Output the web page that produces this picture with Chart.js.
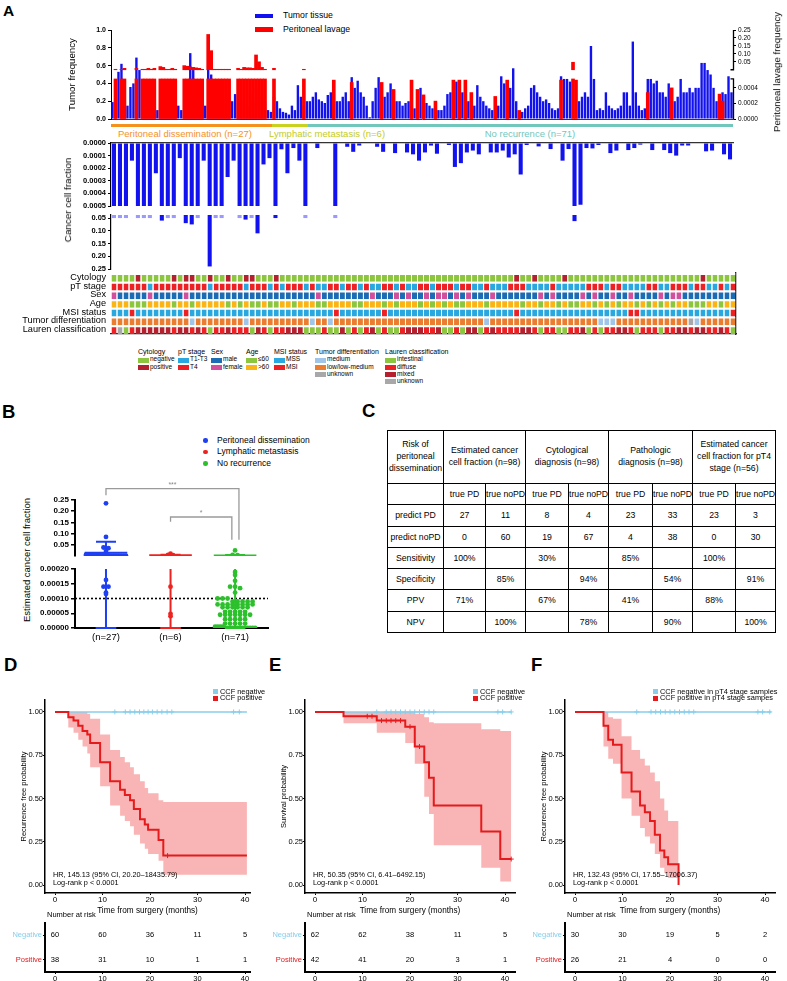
<!DOCTYPE html>
<html>
<head>
<meta charset="utf-8">
<script src="https://cdn.jsdelivr.net/npm/chart.js@4.4.1/dist/chart.umd.min.js"></script>
<style>
html,body{margin:0;padding:0;background:#fff;}
#root{position:relative;width:787px;height:981px;overflow:hidden;font-family:'Liberation Sans',Arial,Helvetica,sans-serif;color:#000;}
#root canvas{position:absolute;}
.t{position:absolute;white-space:nowrap;line-height:1;}
.v{position:absolute;white-space:nowrap;line-height:1;transform:translate(-50%,-50%) rotate(-90deg);}
.sw{position:absolute;}
table.c{position:absolute;border-collapse:collapse;font-size:8.7px;table-layout:fixed;}
table.c td{border:1px solid #000;text-align:center;padding:0;line-height:1.2;overflow:hidden;white-space:nowrap;}
table.c tr.h td{line-height:1.35;}
</style>
</head>
<body><div id="root"></div>
<script>
// ======================= DATA =======================
// Panel A – groups
const groupNames = ['Peritoneal dissemination (n=27)', 'Lymphatic metastasis (n=6)', 'No recurrence (n=71)'];
const groupSizes = [27, 6, 71];
// Panel A – top: tumor frequency (2 mutation slots per sample, 104 samples)
const tumorFreq = [
0.19,0.17, 0.53,0.62, 0.30,0.15, 0.36,0.40, 0.69,0.55, 0.30,0.20, 0.22,0.18, 0.15,0.10, 0.20,0.18, 0.25,0.18,
0.30,0.20, 0.15,0.10, 0.25,0.20, 0.74,0.55, 0.30,0.20, 0.20,0.15, 0.62,0.50, 0.30,0.20, 0.20,0.18, 0.25,0.20,
0.20,0.28, 0.27,0.20, 0.20,0.15, 0.30,0.20, 0.35,0.25, 0.25,0.20, 0.10,0.08,
0.25,0.20, 0.12,0.08, 0.07,0.05, 0.15,0.10, 0.38,0.25, 0.15,0.20,
0.20,0.25, 0.30,0.22, 0.20,0.18, 0.27,0.30, 0.25,0.20, 0.20,0.25, 0.30,0.20, 0.47,0.35, 0.43,0.30, 0.25,0.15,
0.02,0.20, 0.35,0.47, 0.20,0.25, 0.30,0.40, 0.25,0.20, 0.20,0.15, 0.18,0.20, 0.20,0.12, 0.30,0.35, 0.22,0.18,
0.15,0.12, 0.08,0.10, 0.10,0.15, 0.28,0.30, 0.35,0.42, 0.38,0.30, 0.15,0.20, 0.20,0.15, 0.38,0.25, 0.20,0.15,
0.12,0.10, 0.20,0.15, 0.48,0.40, 0.42,0.35, 0.57,0.20, 0.03,0.08, 0.12,0.15, 0.35,0.38, 0.30,0.25, 0.20,0.22,
0.18,0.12, 0.10,0.12, 0.48,0.45, 0.45,0.42, 0.00,0.00, 0.20,0.25, 0.30,0.25, 0.82,0.45, 0.10,0.12, 0.10,0.30,
0.15,0.12, 0.10,0.12, 0.15,0.30, 0.30,0.15, 0.87,0.30, 0.15,0.10, 0.12,0.45, 0.45,0.40, 0.43,0.30, 0.30,0.25,
0.40,0.30, 0.20,0.25, 0.45,0.30, 0.30,0.35, 0.30,0.35, 0.35,0.63, 0.63,0.55, 0.50,0.35, 0.20,0.15, 0.30,0.28,
0.48,0.30
];
// Panel A – top: peritoneal lavage frequency (same slots)
const lavageFreq = [
0,0.003, 0,0.003, 0.009,0, 0,0, 0.009,0, 0.003,0.003, 0.009,0.003, 0.009,0, 0.02,0.015, 0.003,0.003,
0.009,0.003, 0,0, 0.026,0.022, 0.018,0.015, 0.012,0.009, 0.003,0, 0.222,0.12, 0.003,0.003, 0.003,0.003, 0.003,0.003,
0,0, 0.009,0.003, 0.015,0.012, 0.012,0.009, 0.093,0.05, 0.015,0.003, 0,0,
0.009,0, 0,0, 0,0, 0,0, 0,0, 0.003,0,
0,0, 0,0, 0,0, 0,0, 0.0005,0, 0,0, 0,0, 0.00047,0, 0,0, 0,0,
0,0, 0,0, 0.00047,0, 0,0, 0.00038,0, 0,0, 0,0, 0.0005,0, 0.00038,0, 0.00031,0,
0,0, 0.00023,0, 0,0, 0,0, 0.0005,0, 0.0005,0, 0.0005,0, 0.00034,0, 0,0, 0,0,
0,0, 0.00029,0, 0,0, 0.0005,0, 0,0, 0.00011,0, 0,0, 0,0, 0,0, 0,0,
0,0, 0,0, 0.0005,0, 0,0, 0.047,0.0005, 0,0, 0,0, 0,0, 0,0, 0,0,
0,0, 0,0, 0,0, 0,0, 0,0, 0,0, 0,0.00034, 0,0, 0,0, 0,0,
0,0.0004, 0,0, 0,0, 0,0, 0,0, 0,0, 0,0, 0,0, 0,0.00032, 0.00023,0,
0,0
];
const tumorTicks = [0, 0.2, 0.4, 0.6, 0.8, 1.0];
const lavageTicksLow = [0, 0.0002, 0.0004];
const lavageTicksHigh = [0.05, 0.10, 0.15, 0.20, 0.25];
// Panel A – cancer cell fraction per sample
const ccf = [
0.01,0.01,0.01,0.00014,0.01,0.01,0.01,0.00024,0.06,0.01,
0.01,0.00012,0.07,0.075,0.01,0.00014,0.24,0.01,0.01,0.00027,
0.00014,0.01,0.056,0.01,0.11,0.00017,0.00012,
0.05,0.00005,0.00024,0.00004,0.00014,0.01,
0,0.00004,0,0,0.01,0,0.00003,0.00007,0.00002,0,
0,0.00003,0.00007,0,0.00008,0,0.000075,0.00009,0.00014,0.000075,
0.00002,0.000085,0,0.000016,0.00019,0.00016,0.000075,0.00006,0.00009,0,
0.000075,0.000075,0.00006,0.000115,0.00009,0.00025,0.000016,0,0.000027,0,
0.000048,0,0.00014,0.000048,0.062,0.00049,0.00004,0.000043,0.000016,0,
0.00008,0.00006,0,0.000056,0.00004,0.000013,0,0.000056,0,0.000056,
0.00008,0.0001,0.00002,0.00002,0,0,0.000066,0.00006,0,0.00009,
0.00013
];
const ccfTicksUpper = [0, 0.0001, 0.0002, 0.0003, 0.0004, 0.0005];
const ccfTicksLower = [0.05, 0.10, 0.15, 0.20, 0.25];
// Panel A – clinical annotation heatmap (one code per sample)
const heatRowNames = ['Cytology', 'pT stage', 'Sex', 'Age', 'MSI status', 'Tumor differentiation', 'Lauren classification'];
const hmCytology = 'nnnnpnnnnn pnppnnpnnp nnppnnnpnn nnnnnnnnnn nnnnnnnnnn nnnnnnnnnn nnnnnnnpnn pnnnnpnnnn nnnnnnnnnn nnnnnnnnpn nnnn';
const hmPT       = 'bbbbbbabbb bbbbbbabbb bbabbbabab bbabaabbab babaabbaba abbabbbabb aabaaabbba aaabaaaaab bbabbaaaab baabbbabba abab';
const hmSex      = 'fmmmmmfmmm mmfmmmmmmm mmmmmmmmmm mmmmfmmmmm mmmfmmmfmf mmfmffmfmf mmmfmmmmmm mfmfmmmmfm fmmfmmfmmm mfmffmmmmm mmmm';
const hmAge      = 'oooyyyoooo yooyoooooy oyoyyoyyoo yoooyyoooo yyoooyoyoo oyoyoyoyyo ooyoooooyo oyooyoyyoo yoyoyooyoy oyoyooyyyo oyoo';
const hmMSI      = 'sssissssss ssisssssss ssssssssss sssssssiss sssssissss ssssssssss sssssssiss ssssssssss ssssssiiss ssssssssss sssi';
const hmDiff     = 'llllllllll llldllllll lldlllllll llldlldlll llllllllll llllllllll lldlllllll llllllllll ldddllllll lllllludll llll';
const hmLauren   = 'DUIDMMMMMM DMMDMDIDDM DDDIMDIDDM MMIIIDIIMI DIDMIDIIDM MMDDMIIDIM MIDMDDDDMM DIDDIIDDMI DIDDMMDIDD DIDDMMDMMD DMDI';
const heatColors = { n:'#8cc63f', p:'#b5202e', a:'#29a8e0', b:'#ed2024', m:'#1b6cb4', f:'#d24f9e',
  y:'#8cc63f', o:'#fbb416', s:'#29a8e0', i:'#ed2024', d:'#9fc5e8', l:'#ea7d2f', u:'#a8a8a8',
  I:'#8cc63f', D:'#ed2024', M:'#b5202e', U:'#a8a8a8' };
const legendTitles = ['Cytology', 'pT stage', 'Sex', 'Age', 'MSI status', 'Tumor differentiation', 'Lauren classification'];
const legendItems = [
  [['negative','n'],['positive','p']],
  [['T1-T3','a'],['T4','b']],
  [['male','m'],['female','f']],
  [['\u226460','y'],['>60','o']],
  [['MSS','s'],['MSI','i']],
  [['medium','d'],['low/low-medium','l'],['unknown','u']],
  [['intestinal','I'],['diffuse','D'],['mixed','M'],['unknown','U']]
];
// Panel B
const bGroupLabels = ['(n=27)', '(n=6)', '(n=71)'];
const bLegend = ['Peritoneal dissemination', 'Lymphatic metastasis', 'No recurrence'];
const bPD = [0.235,0.085,0.038,0.035,0.022,0.006,0.005,0.005,0.004,0.004,0.004,0.003,0.003,0.003,0.003,0.002,0.002,0.002,0.002,0.001,0.001,0.001,
  0.000163,0.00014,0.00014,0.00012,0.000115];
const bLM = [0.01,0.005,0.004,0.00014,0.000048,0.00004];
const bNR = [0.025,0.005,0.004,
  0.00019,0.00018,0.00016,0.00014,0.00014,0.000135,0.00012,
  0.0001,0.0001,0.0001,
  0.00009,0.00009,0.00009,0.00009,0.00009,
  0.00008,0.00008,0.00008,0.00008,0.00008,0.00008,0.00008,0.00008,
  0.00007,0.00007,0.00007,0.00007,0.00007,0.00007,
  0.000055,0.000055,0.000055,0.000055,0.000055,
  0.000045,0.000045,0.000045,0.000045,0.000045,0.000045,0.000045,
  0.00003,0.00003,0.00003,0.00003,0.00003,
  0.000015,0.000015,0.000015,0.000015,0.000015,
  0.000005,0.000005,0.000005,0.000005,
  0,0,0,0,0,0,0,0,0,0,0,0,0];
const bMean = [0.0143, 0.003, 0.002];
const bSdUpper = [0.064, 0.006, 0.004];
const bThreshold = 0.0001;
const bTicksUpper = [0.05, 0.10, 0.15, 0.20, 0.25];
const bTicksLower = [0, 0.00005, 0.0001, 0.00015, 0.0002];
const sigLabels = ['***', '*'];
const sigFrom = [1, 2];
const sigTo = [3.06, 2.95];
const sigTop = [0.301, 0.174];
const sigFromEnd = [0.271, 0.153];
const sigToEnd = [0.072, 0.072];
// Panel C
const tblCorner = 'Risk of<br>peritoneal<br>dissemination';
const tblHeads = ['Estimated cancer<br>cell fraction (n=98)', 'Cytological<br>diagnosis (n=98)', 'Pathologic<br>diagnosis (n=98)', 'Estimated cancer<br>cell fraction for pT4<br>stage (n=56)'];
const tblSubHeads = ['true PD', 'true noPD', 'true PD', 'true noPD', 'true PD', 'true noPD', 'true PD', 'true noPD'];
const tblRowNames = ['predict PD', 'predict noPD', 'Sensitivity', 'Specificity', 'PPV', 'NPV'];
const tblPredictPD   = [27, 11, 8, 4, 23, 33, 23, 3];
const tblPredictNoPD = [0, 60, 19, 67, 4, 38, 0, 30];
const tblSensitivity = ['100%', '', '30%', '', '85%', '', '100%', ''];
const tblSpecificity = ['', '85%', '', '94%', '', '54%', '', '91%'];
const tblPPV         = ['71%', '', '67%', '', '41%', '', '88%', ''];
const tblNPV         = ['', '100%', '', '78%', '', '90%', '', '100%'];
// Panels D/E/F – Kaplan–Meier
const kmTicks = [0, 10, 20, 30, 40];
const dPosTime  = [0, 2.8, 3.9, 4.9, 5.8, 6.8, 7.4, 9.5, 11.6, 13.7, 14.7, 15.8, 16.6, 17.9, 18.9, 19.6, 21.8, 22.8, 40.4];
const dPosSurv  = [1, .97, .95, .92, .89, .87, .82, .71, .60, .55, .52, .49, .44, .38, .35, .32, .26, .17, .17];
const dPosUpper = [1, 1, 1, 1, 1, .99, .96, .87, .78, .74, .71, .68, .64, .60, .56, .53, .49, .48, .48];
const dPosLower = [1, .91, .88, .84, .80, .76, .68, .57, .46, .40, .37, .34, .29, .24, .21, .18, .14, .06, .06];
const dPosCensor = [23.7];
const dNegCensor = [12.6, 14.8, 15.8, 16.8, 17.8, 18.7, 19.6, 20.5, 21.5, 22.5, 23.6, 24.6, 37.6, 38.8];
const dNegEnd = 40.4;
const dRiskNeg = [60, 60, 36, 11, 5];
const dRiskPos = [38, 31, 10, 1, 1];
const ePosTime  = [0, 6, 13, 19, 21, 23, 24, 25, 35, 39, 41.3];
const ePosSurv  = [1, .975, .95, .915, .80, .71, .62, .46, .31, .15, .15];
const ePosUpper = [1, 1, 1, 1, .99, .97, .94, .935, .90, .89, .89];
const ePosLower = [1, .935, .88, .82, .70, .51, .41, .23, .10, .02, .02];
const ePosCensor = [11, 12, 14, 15, 16, 17, 18, 20, 22, 41.3];
const eNegCensor = [13, 15, 16, 17, 18, 19, 20, 21, 22, 23, 24, 25, 38.5, 39.5, 41.3];
const eNegEnd = 41.3;
const eRiskNeg = [62, 62, 38, 11, 5];
const eRiskPos = [42, 41, 20, 3, 1];
const fPosTime  = [0, 6, 7, 8, 9.8, 11.9, 13.7, 14.7, 15.8, 16.8, 17.9, 18.8, 19.6, 21.8];
const fPosSurv  = [1, .92, .84, .81, .65, .54, .46, .42, .37, .29, .20, .16, .12, 0];
const fPosUpper = [1, 1, .97, .96, .86, .78, .73, .69, .65, .60, .50, .43, .37, .37];
const fPosLower = [1, .80, .73, .70, .50, .40, .33, .28, .24, .18, .10, .07, .04, 0];
const fPosCensor = [];
const fNegCensor = [13, 16, 17, 18, 19, 20, 21, 22, 23, 24, 25, 38.5, 39.5, 41];
const fNegEnd = 41.3;
const fRiskNeg = [30, 30, 19, 5, 2];
const fRiskPos = [26, 21, 4, 0, 0];

// ======================= SETUP =======================
const FONT = "'Liberation Sans', Arial, Helvetica, sans-serif";
Chart.defaults.font.family = FONT;
Chart.defaults.color = '#000';
Chart.defaults.animation = false;
Chart.defaults.responsive = false;
Chart.defaults.devicePixelRatio = 1;
Chart.defaults.events = [];
Chart.defaults.plugins.legend.display = false;
Chart.defaults.plugins.tooltip.enabled = false;

const root = document.getElementById('root');
function canvasAt(x, y, w, h) {
  const c = document.createElement('canvas');
  c.width = w; c.height = h;
  c.style.left = x + 'px'; c.style.top = y + 'px';
  c.style.width = w + 'px'; c.style.height = h + 'px';
  root.appendChild(c);
  return c;
}
function txt(s, x, cy, size, extra) {
  const d = document.createElement('div');
  d.className = 't'; d.textContent = s;
  d.style.fontSize = size + 'px'; d.style.left = x + 'px'; d.style.top = (cy - size * 0.55) + 'px';
  if (extra) Object.assign(d.style, extra);
  root.appendChild(d); return d;
}
function vtxt(s, cx, cy, size, extra) {
  const d = document.createElement('div');
  d.className = 'v'; d.textContent = s;
  d.style.fontSize = size + 'px'; d.style.left = cx + 'px'; d.style.top = cy + 'px';
  if (extra) Object.assign(d.style, extra);
  root.appendChild(d); return d;
}
function box(x, y, w, h, color) {
  const d = document.createElement('div');
  d.className = 'sw';
  Object.assign(d.style, { left: x + 'px', top: y + 'px', width: w + 'px', height: h + 'px', background: color });
  root.appendChild(d); return d;
}
const fixW = w => s => { s.width = w; s.paddingTop = 0; s.paddingBottom = 0; s.paddingLeft = 0; s.paddingRight = 0; };
const fixH = h => s => { s.height = h; s.paddingLeft = 0; s.paddingRight = 0; s.paddingTop = 0; s.paddingBottom = 0; };
const setTicks = vals => s => { s.ticks = vals.map(v => ({ value: v })); };
const tickGrid = (len, w) => ({ display: true, drawOnChartArea: false, tickLength: len, color: '#000', lineWidth: w || 1 });

// ======================= PANEL A =======================
txt('A', 3, 12, 15.5, { fontWeight: 'bold' });
box(255, 14, 18, 4, '#1010f0');
txt('Tumor tissue', 283, 16, 8.7);
box(255, 27, 18, 5, '#ff0000');
txt('Peritoneal lavage', 283, 29.5, 8.7);

const BLUE = '#1212ee';
const LOW_CAP = 0.45, LOW_SCALE = 0.45 / 0.000515, UP0 = 0.5533, UP_SCALE = (1 - 0.5533) / 0.25;
const lavToAxis = v => v <= 0.000515 ? v * LOW_SCALE : Math.min(1, UP0 + v * UP_SCALE);
const lavLabels = lavageTicksLow.map(t => t.toFixed(4)).concat(lavageTicksHigh.map(t => t.toFixed(2)));
const lavAxisPlugin = {
  id: 'lavAxis',
  afterDraw(chart) {
    const s = chart.scales.y1, x = chart.chartArea.right + 0.5, ctx = chart.ctx;
    ctx.save(); ctx.strokeStyle = '#000'; ctx.lineWidth = 1.3;
    ctx.beginPath();
    ctx.moveTo(x, s.getPixelForValue(0)); ctx.lineTo(x, s.getPixelForValue(LOW_CAP)); ctx.lineTo(x - 3, s.getPixelForValue(LOW_CAP));
    ctx.moveTo(x - 3, s.getPixelForValue(UP0)); ctx.lineTo(x, s.getPixelForValue(UP0)); ctx.lineTo(x, s.getPixelForValue(1));
    ctx.stroke(); ctx.restore();
  }
};
new Chart(canvasAt(62, 20, 725, 101), {
  type: 'bar',
  data: {
    labels: tumorFreq.map((_, i) => i),
    datasets: [
      { data: lavageFreq.map(v => v > 0.000515 ? [UP0, lavToAxis(v)] : null), backgroundColor: '#ff0000', barPercentage: 1 },
      { data: lavageFreq.map(v => v > 0 ? [0, Math.min(v * LOW_SCALE, LOW_CAP)] : null), backgroundColor: '#ff0000', barPercentage: 1 },
      { data: tumorFreq, backgroundColor: BLUE, barPercentage: 0.8 }
    ]
  },
  options: {
    layout: { padding: { top: 10, bottom: 2, left: 0, right: 0 } },
    datasets: { bar: { grouped: false, categoryPercentage: 1 } },
    scales: {
      x: { ticks: { display: false }, grid: { display: false, drawTicks: false }, border: { color: '#333', width: 1 }, afterFit: fixH(0) },
      y: { min: 0, max: 1, afterBuildTicks: setTicks(tumorTicks),
        ticks: { autoSkip: false, callback: v => v.toFixed(1), font: { size: 7, weight: 'bold' }, padding: 2 },
        grid: tickGrid(3), border: { color: '#000', width: 1 },
        title: { display: true, text: 'Tumor frequency', font: { size: 9.7 }, padding: { top: 5, bottom: 0 } },
        afterFit: fixW(49) },
      y1: { position: 'right', min: 0, max: 1,
        afterBuildTicks: s => { s.ticks = lavageTicksLow.concat(lavageTicksHigh).map(v => ({ value: lavToAxis(v) })); },
        ticks: { autoSkip: false, callback: (v, i) => lavLabels[i], font: { size: 6.5 }, padding: 2 },
        grid: tickGrid(3), border: { display: false },
        afterFit: fixW(54) }
    }
  },
  plugins: [lavAxisPlugin]
});
vtxt('Peritoneal lavage frequency', 777, 72, 9.7);

// group bar and labels
(function () {
  const x0 = 111, per = (733 - 111) / 104;
  const colors = ['#f5921e', '#c9d21f', '#72c7bd'];
  let start = 0;
  groupSizes.forEach((n, g) => {
    box(x0 + start * per, 124, n * per, 3, colors[g]);
    start += n;
  });
  txt(groupNames[0], 118, 134, 9.5, { color: colors[0] });
  txt(groupNames[1], 269, 134, 9.5, { color: '#c4cc18' });
  txt(groupNames[2], 530, 134, 9.5, { color: colors[2], transform: 'translateX(-50%)' });
})();

// CCF upper segment
new Chart(canvasAt(62, 138, 725, 71), {
  type: 'bar',
  data: { labels: ccf.map((_, i) => i + 1),
    datasets: [{ data: ccf.map(v => Math.min(v, 0.0005)), backgroundColor: BLUE, barPercentage: 0.68, categoryPercentage: 1 }] },
  options: {
    layout: { padding: { top: 5, bottom: 3, right: 54, left: 0 } },
    scales: {
      x: { position: 'top', ticks: { display: false }, grid: { display: false, drawTicks: false }, border: { color: '#333', width: 1.3 }, afterFit: fixH(0) },
      y: { reverse: true, min: 0, max: 0.0005, afterBuildTicks: setTicks(ccfTicksUpper),
        ticks: { autoSkip: false, callback: v => v.toFixed(4), font: { size: 7.5, weight: 'bold' }, padding: 2 },
        grid: tickGrid(3), border: { color: '#000', width: 1.2 }, afterFit: fixW(49) }
    }
  }
});
// CCF lower segment
const CCF_LOW_TOP = 0.038;
new Chart(canvasAt(62, 210, 725, 63), {
  type: 'bar',
  data: { labels: ccf.map((_, i) => i + 1),
    datasets: [{ data: ccf.map(v => v > 0.0005 ? [CCF_LOW_TOP, Math.max(v, 0.05)] : null),
      backgroundColor: ccf.map(v => v >= 0.05 ? BLUE : 'rgba(70,70,255,0.55)'), barPercentage: 0.68, categoryPercentage: 1 }] },
  options: {
    layout: { padding: { top: 5, bottom: 4, right: 54, left: 0 } },
    scales: {
      x: { display: false },
      y: { reverse: true, min: CCF_LOW_TOP, max: 0.25, afterBuildTicks: setTicks(ccfTicksLower),
        ticks: { autoSkip: false, callback: v => v.toFixed(2), font: { size: 7.5, weight: 'bold' }, padding: 2 },
        grid: tickGrid(3), border: { color: '#000', width: 1.2 }, afterFit: fixW(49) }
    }
  }
});
vtxt('Cancer cell fraction', 68, 200, 9.9);

// Heatmap
const hmRows = [hmCytology, hmPT, hmSex, hmAge, hmMSI, hmDiff, hmLauren].map(s => s.replace(/\s/g, '').split(''));
new Chart(canvasAt(0, 270, 746, 67), {
  type: 'bar',
  data: { labels: hmRows[0].map((_, i) => i),
    datasets: hmRows.map(r => ({ data: r.map(() => 1), backgroundColor: r.map(c => heatColors[c]),
      borderColor: '#ffffff', borderWidth: { top: 2, left: 0, right: 0, bottom: 0 }, borderSkipped: false,
      barPercentage: 0.84, categoryPercentage: 1, inflateAmount: 0 })) },
  options: {
    layout: { padding: { top: 3, bottom: 3, right: 8, left: 0 } },
    scales: {
      x: { stacked: true, ticks: { display: false }, grid: { display: false, drawTicks: false }, border: { color: '#222', width: 1.3 }, afterFit: fixH(0) },
      y: { stacked: true, reverse: true, min: 0, max: 7, afterBuildTicks: setTicks([0.5, 1.5, 2.5, 3.5, 4.5, 5.5, 6.5]),
        ticks: { autoSkip: false, callback: (v, i) => heatRowNames[i], font: { size: 9.2 }, padding: 5 },
        grid: { display: false, drawTicks: false }, border: { display: false }, afterFit: fixW(111) },
      y2: { position: 'right', ticks: { display: false }, grid: { display: false, drawTicks: false }, border: { color: '#222', width: 1.3 }, afterFit: fixW(2) }
    }
  }
});
// heatmap legend
(function () {
  const lx = [138, 178, 211, 246, 274, 315, 385];
  legendTitles.forEach((t, gi) => {
    txt(t, lx[gi], 352, 7);
    legendItems[gi].forEach((it, k) => {
      box(lx[gi], 357.5 + k * 7.2, 10.5, 5, heatColors[it[1]]);
      txt(it[0], lx[gi] + 12, 360 + k * 7.2, 6.5);
    });
  });
})();

// ======================= PANEL B =======================
txt('B', 2, 413, 18.5, { fontWeight: 'bold' });
const bColors = ['#1e3ff2', '#ee2320', '#2cc12c'];
bLegend.forEach((s, i) => {
  const d = box(203, 438 + i * 11.5, 4.5, 4.5, bColors[i]); d.style.borderRadius = '50%';
  txt(s, 217, 440.5 + i * 11.5, 8.5);
});
vtxt('Estimated cancer cell fraction', 27, 560, 9.5);
const BX = [0.52, 3.51], BPX = 193 / (BX[1] - BX[0]);
function swarm(vals, center, pxPerY) {
  const bins = new Map();
  vals.forEach(v => { const k = Math.round(v * pxPerY / 4); if (!bins.has(k)) bins.set(k, []); bins.get(k).push(v); });
  const pts = [];
  bins.forEach(list => {
    const n = list.length, sp = n > 1 ? Math.min(5, 40 / (n - 1)) : 0;
    list.forEach((v, i) => pts.push({ x: center + (i - (n - 1) / 2) * sp / BPX, y: v }));
  });
  return pts;
}
const bVals = [bPD, bLM, bNR];
const upSets = [], loSets = [];
bVals.forEach((vals, g) => {
  const c = g + 1, m = bMean[g], sd = bSdUpper[g];
  upSets.push({ data: swarm(vals.filter(v => v > 0.0002), c, 59 / 0.25), showLine: false, pointRadius: 2.4, pointBackgroundColor: bColors[g], pointBorderWidth: 0 });
  loSets.push({ data: swarm(vals.filter(v => v <= 0.0002), c, 59 / 0.0002), showLine: false, pointRadius: 2.4, pointBackgroundColor: bColors[g], pointBorderWidth: 0 });
  upSets.push({ data: [{ x: c - 0.33, y: m }, { x: c + 0.33, y: m }, { x: c, y: null }, { x: c - 0.155, y: sd }, { x: c + 0.155, y: sd }, { x: c, y: null }, { x: c, y: 0 }, { x: c, y: sd }],
    borderColor: bColors[g], borderWidth: 2, pointRadius: 0, showLine: true, spanGaps: false });
  loSets.push({ data: [{ x: c - 0.16, y: 0 }, { x: c + 0.16, y: 0 }, { x: c, y: null }, { x: c, y: 0 }, { x: c, y: 0.0002 }],
    borderColor: bColors[g], borderWidth: 2, pointRadius: 0, showLine: true, spanGaps: false, clip: false });
});
sigLabels.forEach((l, i) => {
  upSets.push({ data: [{ x: sigFrom[i], y: sigFromEnd[i] }, { x: sigFrom[i], y: sigTop[i] }, { x: sigTo[i], y: sigTop[i] }, { x: sigTo[i], y: sigToEnd[i] }],
    borderColor: '#9a9a9a', borderWidth: 1.3, pointRadius: 0, showLine: true, clip: false });
});
loSets.push({ data: [{ x: BX[0], y: bThreshold }, { x: BX[1], y: bThreshold }], borderColor: '#000', borderWidth: 1.6, borderDash: [2, 2], pointRadius: 0, showLine: true });
const sigPlugin = {
  id: 'sig',
  afterDraw(chart) {
    const { ctx, scales: { x, y } } = chart;
    ctx.save(); ctx.fillStyle = '#888'; ctx.font = '7px ' + FONT; ctx.textAlign = 'center'; ctx.textBaseline = 'bottom';
    sigLabels.forEach((l, i) => ctx.fillText(l, x.getPixelForValue((sigFrom[i] + sigTo[i]) / 2), y.getPixelForValue(sigTop[i]) - 0.5));
    ctx.restore();
  }
};
new Chart(canvasAt(35, 478, 248, 82), {
  type: 'line',
  data: { datasets: upSets },
  options: {
    layout: { padding: { top: 22, bottom: 1, right: 15, left: 0 } },
    scales: {
      x: { type: 'linear', display: false, min: BX[0], max: BX[1] },
      y: { min: 0, max: 0.25, afterBuildTicks: setTicks(bTicksUpper),
        ticks: { autoSkip: false, callback: v => v.toFixed(2), font: { size: 8, weight: 'bold' }, padding: 2 },
        grid: tickGrid(4, 1.5), border: { color: '#000', width: 2 }, afterFit: fixW(40) }
    }
  },
  plugins: [sigPlugin]
});
new Chart(canvasAt(35, 565, 248, 80), {
  type: 'line',
  data: { datasets: loSets },
  options: {
    layout: { padding: { top: 4, bottom: 0, right: 15, left: 0 } },
    scales: {
      x: { type: 'linear', min: BX[0], max: BX[1], afterBuildTicks: setTicks([1, 2, 3]),
        ticks: { autoSkip: false, callback: (v, i) => bGroupLabels[i], font: { size: 9.5 }, padding: 4, maxRotation: 0 },
        grid: { display: false, drawTicks: false }, border: { color: '#000', width: 2 }, afterFit: fixH(17) },
      y: { min: 0, max: 0.0002, afterBuildTicks: setTicks(bTicksLower),
        ticks: { autoSkip: false, callback: v => v.toFixed(5), font: { size: 8, weight: 'bold' }, padding: 2 },
        grid: tickGrid(4, 1.5), border: { color: '#000', width: 2 }, afterFit: fixW(40) }
    }
  }
});

// ======================= PANEL C =======================
txt('C', 362, 412, 18.5, { fontWeight: 'bold' });
(function () {
  const TOP = 430;
  const widths = [56, 42, 40, 43, 40, 44, 40, 43, 40];
  const t = document.createElement('table'); t.className = 'c';
  t.style.left = '387px'; t.style.top = TOP + 'px'; t.style.width = widths.reduce((a, b) => a + b, 0) + 'px';
  const cg = document.createElement('colgroup');
  widths.forEach(w => { const c = document.createElement('col'); c.style.width = w + 'px'; cg.appendChild(c); });
  t.appendChild(cg);
  function row(cells, h, html, cls) {
    const tr = document.createElement('tr');
    if (cls) tr.className = cls;
    cells.forEach(c => { const td = document.createElement('td'); td.style.height = h + 'px';
      if (typeof c === 'object' && c !== null) { td.innerHTML = c.t; td.colSpan = c.span; }
      else if (html) td.innerHTML = c; else td.textContent = c;
      tr.appendChild(td); });
    t.appendChild(tr);
  }
  row([tblCorner].concat(tblHeads.map(h => ({ t: h, span: 2 }))), 52, true, 'h');
  row([''].concat(tblSubHeads), 20.3);
  [tblPredictPD, tblPredictNoPD, tblSensitivity, tblSpecificity, tblPPV, tblNPV].forEach((r, i) => row([tblRowNames[i]].concat(r), 20.3));
  root.appendChild(t);
})();

// ======================= PANELS D/E/F =======================
const NEG = '#87ceeb', POS = '#e41a1c', BAND = 'rgba(240,60,60,0.38)';
function survAt(T, S, t) { let v = S[0]; for (let i = 0; i < T.length; i++) if (T[i] <= t) v = S[i]; return v; }
const riskPlugin = {
  id: 'risk',
  afterDraw(chart, args, opts) {
    const { ctx, scales: { x, y } } = chart;
    ctx.save(); ctx.font = '7.5px ' + FONT; ctx.fillStyle = '#000'; ctx.textAlign = 'center'; ctx.textBaseline = 'middle';
    opts.rows.forEach((r, ri) => r.forEach((n, i) => ctx.fillText(String(n), x.getPixelForValue(kmTicks[i]), y.getPixelForValue(ri))));
    ctx.restore();
  }
};
function kmPanel(p) {
  const areaW = p.areaR - p.areaL, ox = p.areaL - 45;
  const xmin = -10 / 4.75;
  const ymin = -0.046, ymax = 1.069;
  const sets = [
    { data: p.posCens.map(t => ({ x: t, y: survAt(p.T, p.S, t) })), showLine: false, pointStyle: 'cross', pointRadius: 2.5, pointBorderColor: POS, pointBorderWidth: 1 },
    { data: p.T.map((t, i) => ({ x: t, y: p.S[i] })), stepped: true, borderColor: POS, borderWidth: 2, pointRadius: 0 },
    { data: p.negCens.map(t => ({ x: t, y: 1 })), showLine: false, pointStyle: 'cross', pointRadius: 2.5, pointBorderColor: NEG, pointBorderWidth: 1 },
    { data: [{ x: 0, y: 1 }, { x: p.negEnd, y: 1 }], borderColor: NEG, borderWidth: 1.6, pointRadius: 0 },
    { data: p.T.map((t, i) => ({ x: t, y: p.U[i] })), stepped: true, borderColor: 'rgba(0,0,0,0)', borderWidth: 0, pointRadius: 0, fill: false },
    { data: p.T.map((t, i) => ({ x: t, y: p.L[i] })), stepped: true, borderColor: 'rgba(0,0,0,0)', borderWidth: 0, pointRadius: 0, fill: '-1', backgroundColor: BAND }
  ];
  new Chart(canvasAt(ox, 690, 45 + areaW + 15, 226), {
    type: 'line',
    data: { datasets: sets },
    options: {
      layout: { padding: { top: 10, right: 15, bottom: 0, left: 0 } },
      scales: {
        x: { type: 'linear', min: xmin, max: p.xmax, afterBuildTicks: setTicks(kmTicks),
          ticks: { autoSkip: false, font: { size: 8 }, padding: 0, maxRotation: 0 },
          grid: tickGrid(2), border: { color: '#000', width: 1.5 },
          title: { display: true, text: 'Time from surgery (months)', font: { size: 8.2 }, padding: { top: 0, bottom: 0 } },
          afterFit: fixH(23) },
        y: { min: ymin, max: ymax, afterBuildTicks: setTicks([0, 0.25, 0.5, 0.75, 1]),
          ticks: { autoSkip: false, callback: v => v.toFixed(2), font: { size: 7.5 }, padding: 0 },
          grid: tickGrid(2), border: { color: '#000', width: 1.5 },
          title: { display: true, text: p.yTitle, font: { size: 7.5 }, padding: { top: 19, bottom: 0 } },
          afterFit: fixW(45) }
      }
    }
  });
  new Chart(canvasAt(ox, 920, 45 + areaW + 15, 61), {
    type: 'line',
    data: { datasets: [] },
    options: {
      layout: { padding: { top: 3, right: 15, bottom: 0, left: 0 } },
      plugins: { risk: { rows: [p.riskNeg, p.riskPos] } },
      scales: {
        x: { type: 'linear', min: xmin, max: p.xmax, afterBuildTicks: setTicks(kmTicks),
          ticks: { autoSkip: false, font: { size: 7.5 }, padding: 0, maxRotation: 0 },
          grid: tickGrid(2), border: { color: '#000', width: 2 }, afterFit: fixH(9) },
        y: { type: 'category', labels: ['Negative', 'Positive'], offset: true,
          ticks: { font: { size: 7.5 }, padding: 1, color: c => c.index === 0 ? NEG : POS },
          grid: tickGrid(2), border: { color: '#000', width: 2 }, afterFit: fixW(45) }
      }
    },
    plugins: [riskPlugin]
  });
  txt('Number at risk', p.areaL + 2, 915, 7.5);
  txt(p.hr, p.areaL + 8, 875, 7.3);
  txt('Log-rank    p < 0.0001', p.areaL + 8, 883, 7.3);
  p.legend.forEach((s, i) => {
    box(p.legX, 689 + i * 6.5, 5, 5, i === 0 ? NEG : POS);
    txt(s, p.legX + 7, 692 + i * 6.5, 7.4);
  });
}
txt('D', 4, 666, 18.5, { fontWeight: 'bold' });
txt('E', 269, 666, 18.5, { fontWeight: 'bold' });
txt('F', 531, 666, 18.5, { fontWeight: 'bold' });
kmPanel({ areaL: 45, areaR: 250, xmax: 41.05, T: dPosTime, S: dPosSurv, U: dPosUpper, L: dPosLower, posCens: dPosCensor, negCens: dNegCensor, negEnd: dNegEnd,
  riskNeg: dRiskNeg, riskPos: dRiskPos, yTitle: 'Recurrence free probability', hr: 'HR, 145.13 (95% CI, 20.20\u201318435.79)',
  legend: ['CCF negative', 'CCF positive'], legX: 213 });
kmPanel({ areaL: 305, areaR: 515, xmax: 42.1, T: ePosTime, S: ePosSurv, U: ePosUpper, L: ePosLower, posCens: ePosCensor, negCens: eNegCensor, negEnd: eNegEnd,
  riskNeg: eRiskNeg, riskPos: eRiskPos, yTitle: 'Survival probability', hr: 'HR, 50.35 (95% CI, 6.41\u20136492.15)',
  legend: ['CCF negative', 'CCF positive'], legX: 473 });
kmPanel({ areaL: 565, areaR: 775, xmax: 42.1, T: fPosTime, S: fPosSurv, U: fPosUpper, L: fPosLower, posCens: fPosCensor, negCens: fNegCensor, negEnd: fNegEnd,
  riskNeg: fRiskNeg, riskPos: fRiskPos, yTitle: 'Recurrence free probability', hr: 'HR, 132.43 (95% CI, 17.55\u201317006.37)',
  legend: ['CCF negative in pT4 stage samples', 'CCF positive in pT4 stage sampes'], legX: 653 });
</script>
</body>
</html>
